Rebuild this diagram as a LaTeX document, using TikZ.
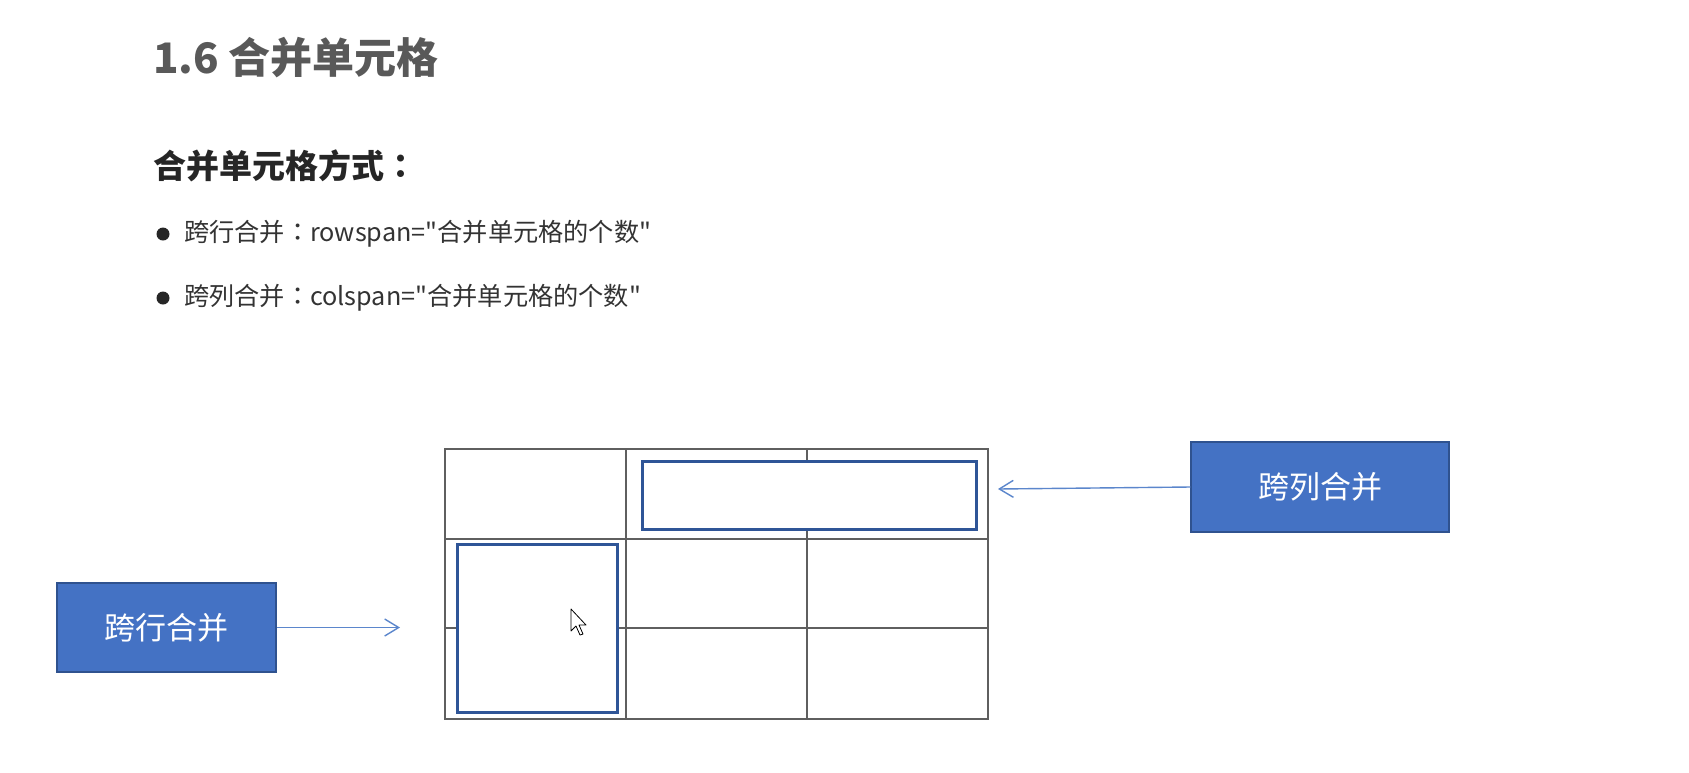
\documentclass[tikz,border=0pt]{standalone}
\usepackage{fontspec}
\newfontfamily\cjk{Noto Sans CJK SC}
\newfontfamily\cjktc{Noto Sans CJK TC}
\usetikzlibrary{arrows.meta}
\definecolor{titlegray}{HTML}{595959}
\definecolor{textgray}{HTML}{333333}
\definecolor{gridgray}{HTML}{5F5F5F}
\definecolor{mergeblue}{HTML}{2F5597}
\definecolor{boxfill}{HTML}{4472C4}
\definecolor{boxborder}{HTML}{2F528F}
\definecolor{arrowblue}{HTML}{5B86CC}
\tikzset{
  gridline/.style={draw=gridgray, line width=2pt},
  mergerect/.style={draw=mergeblue, fill=white, line width=3pt},
  labelbox/.style={draw=boxborder, fill=boxfill, line width=1.5pt, text=white,
    font=\cjk\fontsize{31}{36}\selectfont, inner sep=0pt},
  pointer/.style={draw=arrowblue, line width=1.4pt, -{Straight Barb[length=14pt,width=17pt,line width=1.4pt]}},
  txt/.style={anchor=west, inner sep=0pt},
}
\begin{document}
\begin{tikzpicture}[x=1pt,y=-1pt]
\useasboundingbox[fill=white] (0,0) rectangle (1689,772);
% texts
\node[txt, text=titlegray, font=\cjk\fontsize{42}{48}\selectfont\bfseries] (title) at (153,58) {1.6 合并单元格};
\node[txt, text=black!85, font=\cjktc\fontsize{33}{38}\selectfont\bfseries] (sub) at (153,166) {合并单元格方式：};
\fill[black!85] (163,234) circle (6.5);
\node[txt, text=textgray, font=\cjktc\fontsize{25.2}{30}\selectfont] (b1) at (184,234) {跨行合并：rowspan="合并单元格的个数"};
\fill[black!85] (163,298) circle (6.5);
\node[txt, text=textgray, font=\cjktc\fontsize{25.2}{30}\selectfont] (b2) at (184,298) {跨列合并：colspan="合并单元格的个数"};
% grid
\draw[gridline] (445,449) rectangle (988,719);
\draw[gridline] (626,449) -- (626,719);
\draw[gridline] (807,449) -- (807,719);
\draw[gridline] (445,539) -- (988,539);
\draw[gridline] (445,628) -- (988,628);
% merged cells
\draw[mergerect] (642,461) rectangle (976,529);
\draw[mergerect] (457,544) rectangle (617,712);
% mouse cursor
\draw[black, fill=white, line width=0.8pt, line join=round]
  (571,609) -- (571,631) -- (576,626) -- (580,635) -- (583,634) -- (579,625) -- (586,625) -- cycle;
% label boxes
\node[labelbox, minimum width=219, minimum height=89] (row) at (166.5,627.5) {跨行合并};
\node[labelbox, minimum width=258, minimum height=90] (col) at (1320,487) {跨列合并};
\coordinate (rowend) at (400,627.5);
\coordinate (colend) at (998,489);
\draw[pointer] (row.east) -- (rowend);
\draw[pointer] (col.west) -- (colend);
\end{tikzpicture}
\end{document}
